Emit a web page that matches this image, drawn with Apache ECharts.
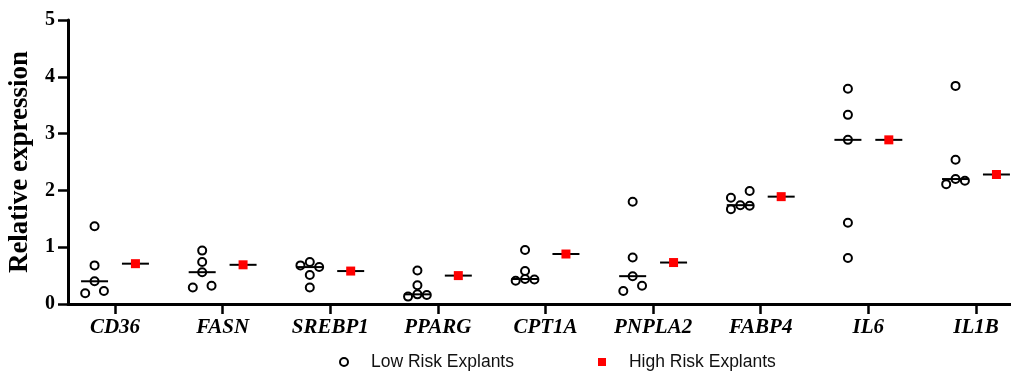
<!DOCTYPE html>
<html>
<head>
<meta charset="utf-8">
<script src="https://cdn.jsdelivr.net/npm/echarts@6/dist/echarts.min.js"></script>
<style>
  html, body { margin: 0; padding: 0; background: #fff; }
  #chart { width: 1011px; height: 374px; }
</style>
</head>
<body>
<div id="chart"></div>
<script>
// genes on the x axis
const genes = ['CD36', 'FASN', 'SREBP1', 'PPARG', 'CPT1A', 'PNPLA2', 'FABP4', 'IL6', 'IL1B']

// low risk explants, five per gene
const lowCD36   = [1.37, 0.68, 0.40, 0.19, 0.23]
const lowFASN   = [0.94, 0.74, 0.56, 0.29, 0.32]
const lowSREBP1 = [0.68, 0.74, 0.65, 0.51, 0.29]
const lowPPARG  = [0.59, 0.33, 0.13, 0.17, 0.16]
const lowCPT1A  = [0.95, 0.58, 0.41, 0.44, 0.43]
const lowPNPLA2 = [1.80, 0.82, 0.49, 0.23, 0.32]
const lowFABP4  = [1.87, 1.99, 1.67, 1.74, 1.73]
const lowIL6    = [3.79, 3.33, 2.89, 1.43, 0.81]
const lowIL1B   = [3.84, 2.54, 2.11, 2.20, 2.17]

// high risk explants, one per gene
const high = [0.71, 0.69, 0.58, 0.50, 0.88, 0.73, 1.89, 2.89, 2.28]

const yTicks = [0, 1, 2, 3, 4, 5]

const lowGroups = [lowCD36, lowFASN, lowSREBP1, lowPPARG, lowCPT1A, lowPNPLA2, lowFABP4, lowIL6, lowIL1B]

// layout of the dot groups (in axis units)
const GROUP_SHIFT = 0.19
const SWARM_STEP = 0.087
const SWARM_JOIN = 0.125

function median(vals) {
  const s = vals.slice().sort((a, b) => a - b)
  const m = Math.floor(s.length / 2)
  return s.length % 2 ? s[m] : (s[m - 1] + s[m]) / 2
}

// spread points that sit at nearly the same height side by side
function swarm(vals, center) {
  const order = vals.map((v, i) => i).sort((a, b) => vals[a] - vals[b])
  const clusters = []
  order.forEach((i, k) => {
    if (k && vals[i] - vals[order[k - 1]] < SWARM_JOIN)
      clusters[clusters.length - 1].push(i)
    else
      clusters.push([i])
  })
  const pts = []
  clusters.forEach(c => {
    c.sort((a, b) => a - b)
    const n = c.length
    c.forEach((i, k) => {
      let off = k - (n - 1) / 2
      if (n % 2 === 0) off *= 2
      pts.push([center + off * SWARM_STEP, vals[i]])
    })
  })
  return pts
}

const lowPoints = []
const lowMedians = []
const highPoints = []
lowGroups.forEach((vals, g) => {
  swarm(vals, g - GROUP_SHIFT).forEach(p => lowPoints.push(p))
  lowMedians.push([g - GROUP_SHIFT, median(vals)])
  highPoints.push([g + GROUP_SHIFT, high[g]])
})

const catIndex = genes.map((g, i) => i)
const serif = 'Liberation Serif'

const chart = echarts.init(document.getElementById('chart'))

chart.setOption({
  animation: false,
  backgroundColor: '#fff',
  grid: {
    left: 68,
    right: 0,
    top: 20,
    bottom: 70,
    containLabel: false,
    outerBoundsMode: 'none'
  },
  legend: {
    left: 334,
    top: 348,
    itemGap: 84,
    itemWidth: 8,
    itemHeight: 8,
    textStyle: {
      fontFamily: 'Liberation Sans',
      fontSize: 17.5,
      color: '#111',
      padding: [0, 0, 0, 18]
    },
    data: [
      { name: 'Low Risk Explants', icon: 'circle' },
      { name: 'High Risk Explants', icon: 'rect' }
    ]
  },
  xAxis: {
    type: 'value',
    min: -0.4367,
    max: 8.3253,
    splitLine: { show: false },
    axisLine: { show: true, onZero: false, lineStyle: { color: '#000', width: 3 } },
    axisTick: {
      show: true,
      length: 10,
      customValues: catIndex,
      lineStyle: { color: '#000', width: 2.5 }
    },
    axisLabel: {
      customValues: catIndex,
      formatter: v => genes[Math.round(v)],
      margin: 13,
      fontFamily: serif,
      fontWeight: 'bold',
      fontStyle: 'italic',
      fontSize: 21,
      color: '#000'
    }
  },
  yAxis: {
    type: 'value',
    min: 0,
    max: 5,
    interval: 1,
    name: 'Relative expression',
    nameLocation: 'middle',
    nameGap: 34,
    nameTextStyle: {
      fontFamily: serif,
      fontWeight: 'bold',
      fontSize: 27,
      color: '#000'
    },
    splitLine: { show: false },
    axisLine: { show: true, onZero: false, lineStyle: { color: '#000', width: 3 } },
    axisTick: { show: true, length: 10, lineStyle: { color: '#000', width: 2.5 } },
    axisLabel: {
      margin: 13,
      fontFamily: serif,
      fontWeight: 'bold',
      fontSize: 20,
      color: '#000',
      formatter: v => yTicks.includes(v) ? String(v) : ''
    }
  },
  series: [
    {
      name: 'lowMedian',
      type: 'scatter',
      silent: true,
      symbol: 'rect',
      symbolSize: [27, 2],
      itemStyle: { color: '#000', opacity: 1 },
      data: lowMedians
    },
    {
      name: 'Low Risk Explants',
      type: 'scatter',
      symbol: 'circle',
      symbolSize: 8,
      itemStyle: { color: 'rgba(0,0,0,0)', borderColor: '#000', borderWidth: 2, opacity: 1 },
      data: lowPoints
    },
    {
      name: 'highMedian',
      type: 'scatter',
      silent: true,
      symbol: 'rect',
      symbolSize: [27, 2],
      itemStyle: { color: '#000', opacity: 1 },
      data: highPoints
    },
    {
      name: 'High Risk Explants',
      type: 'scatter',
      symbol: 'rect',
      symbolSize: 9,
      itemStyle: { color: '#ff0000', opacity: 1 },
      data: highPoints
    }
  ]
})
</script>
</body>
</html>
